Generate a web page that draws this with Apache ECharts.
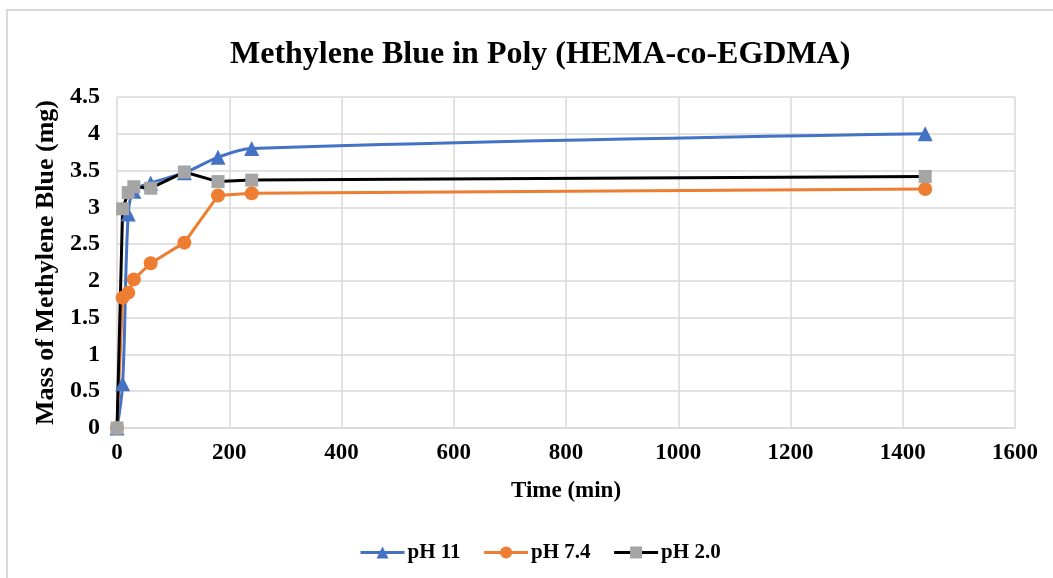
<!DOCTYPE html>
<html>
<head>
<meta charset="utf-8">
<script src="https://cdn.jsdelivr.net/npm/echarts@6/dist/echarts.min.js"></script>
<style>
  html, body { margin: 0; padding: 0; background: #fff; }
  #chart { width: 1053px; height: 578px; }
</style>
</head>
<body>
<div id="chart"></div>
<script>
// Release of methylene blue from the hydrogel at three pH values
const timeMin = [0, 10, 20, 30, 60, 120, 180, 240, 1440];
const pH11 = [0, 0.6, 2.91, 3.22, 3.33, 3.47, 3.68, 3.80, 4.00];
const pH74 = [0, 1.77, 1.84, 2.02, 2.24, 2.52, 3.16, 3.19, 3.25];
const pH20 = [0, 2.98, 3.20, 3.28, 3.26, 3.48, 3.35, 3.37, 3.42];
const seriesNames = ['pH 11', 'pH 7.4', 'pH 2.0'];

const FONT = '"Liberation Serif", "Times New Roman", serif';
const pairs = (ys) => timeMin.map((t, i) => [t, ys[i]]);

const chart = echarts.init(document.getElementById('chart'));
chart.setOption({
  animation: false,
  backgroundColor: '#fff',
  textStyle: { fontFamily: FONT, fontWeight: 'bold', color: '#000' },
  graphic: [{
    type: 'rect',
    shape: { x: 7, y: 10, width: 1100, height: 620 },
    style: { fill: 'none', stroke: '#d9d9d9', lineWidth: 2 },
    silent: true
  }],
  title: {
    text: 'Methylene Blue in Poly (HEMA-co-EGDMA)',
    left: 225,
    top: 34,
    textStyle: { fontFamily: FONT, fontWeight: 'bold', fontSize: 32, color: '#000' }
  },
  legend: {
    bottom: 10,
    left: 354,
    itemWidth: 44,
    itemHeight: 15,
    itemGap: 22,
    data: seriesNames,
    lineStyle: { width: 3 },
    textStyle: { fontFamily: FONT, fontWeight: 'bold', fontSize: 21, color: '#000', padding: [0, 0, 0, -2] }
  },
  grid: { left: 117, right: 38, top: 97, bottom: 150 },
  xAxis: {
    type: 'value',
    min: 0, max: 1600, interval: 200,
    name: 'Time (min)',
    nameLocation: 'middle',
    nameGap: 52,
    nameTextStyle: { fontFamily: FONT, fontWeight: 'bold', fontSize: 23, color: '#000' },
    axisLine: { show: true, lineStyle: { color: '#d9d9d9', width: 1.5 } },
    axisTick: { show: false },
    splitLine: { show: true, lineStyle: { color: '#d9d9d9', width: 1.5 } },
    axisLabel: {
      fontFamily: FONT, fontWeight: 'bold', fontSize: 23, color: '#000', margin: 14,
      formatter: (v) => String(v)
    }
  },
  yAxis: {
    type: 'value',
    min: 0, max: 4.5, interval: 0.5,
    name: 'Mass of Methylene Blue (mg)',
    nameLocation: 'middle',
    nameGap: 53,
    nameTextStyle: { fontFamily: FONT, fontWeight: 'bold', fontSize: 26, color: '#000' },
    axisLine: { show: false },
    axisTick: { show: false },
    splitLine: { show: true, lineStyle: { color: '#d9d9d9', width: 1.5 } },
    axisLabel: {
      fontFamily: FONT, fontWeight: 'bold', fontSize: 24, color: '#000', margin: 17,
      formatter: (v) => String(v)
    }
  },
  series: [
    {
      name: seriesNames[0],
      type: 'line',
      data: pairs(pH11),
      smooth: 0.35,
      symbol: 'triangle',
      symbolSize: 15,
      color: '#4472C4',
      lineStyle: { width: 3, color: '#4472C4' },
      itemStyle: { color: '#4472C4' }
    },
    {
      name: seriesNames[1],
      type: 'line',
      data: pairs(pH74),
      symbol: 'circle',
      symbolSize: 14,
      color: '#ED7D31',
      lineStyle: { width: 3, color: '#ED7D31' },
      itemStyle: { color: '#ED7D31' }
    },
    {
      name: seriesNames[2],
      type: 'line',
      data: pairs(pH20),
      symbol: 'rect',
      symbolSize: 13,
      color: '#A5A5A5',
      lineStyle: { width: 3, color: '#000' },
      itemStyle: { color: '#A5A5A5' }
    }
  ]
});
</script>
</body>
</html>
